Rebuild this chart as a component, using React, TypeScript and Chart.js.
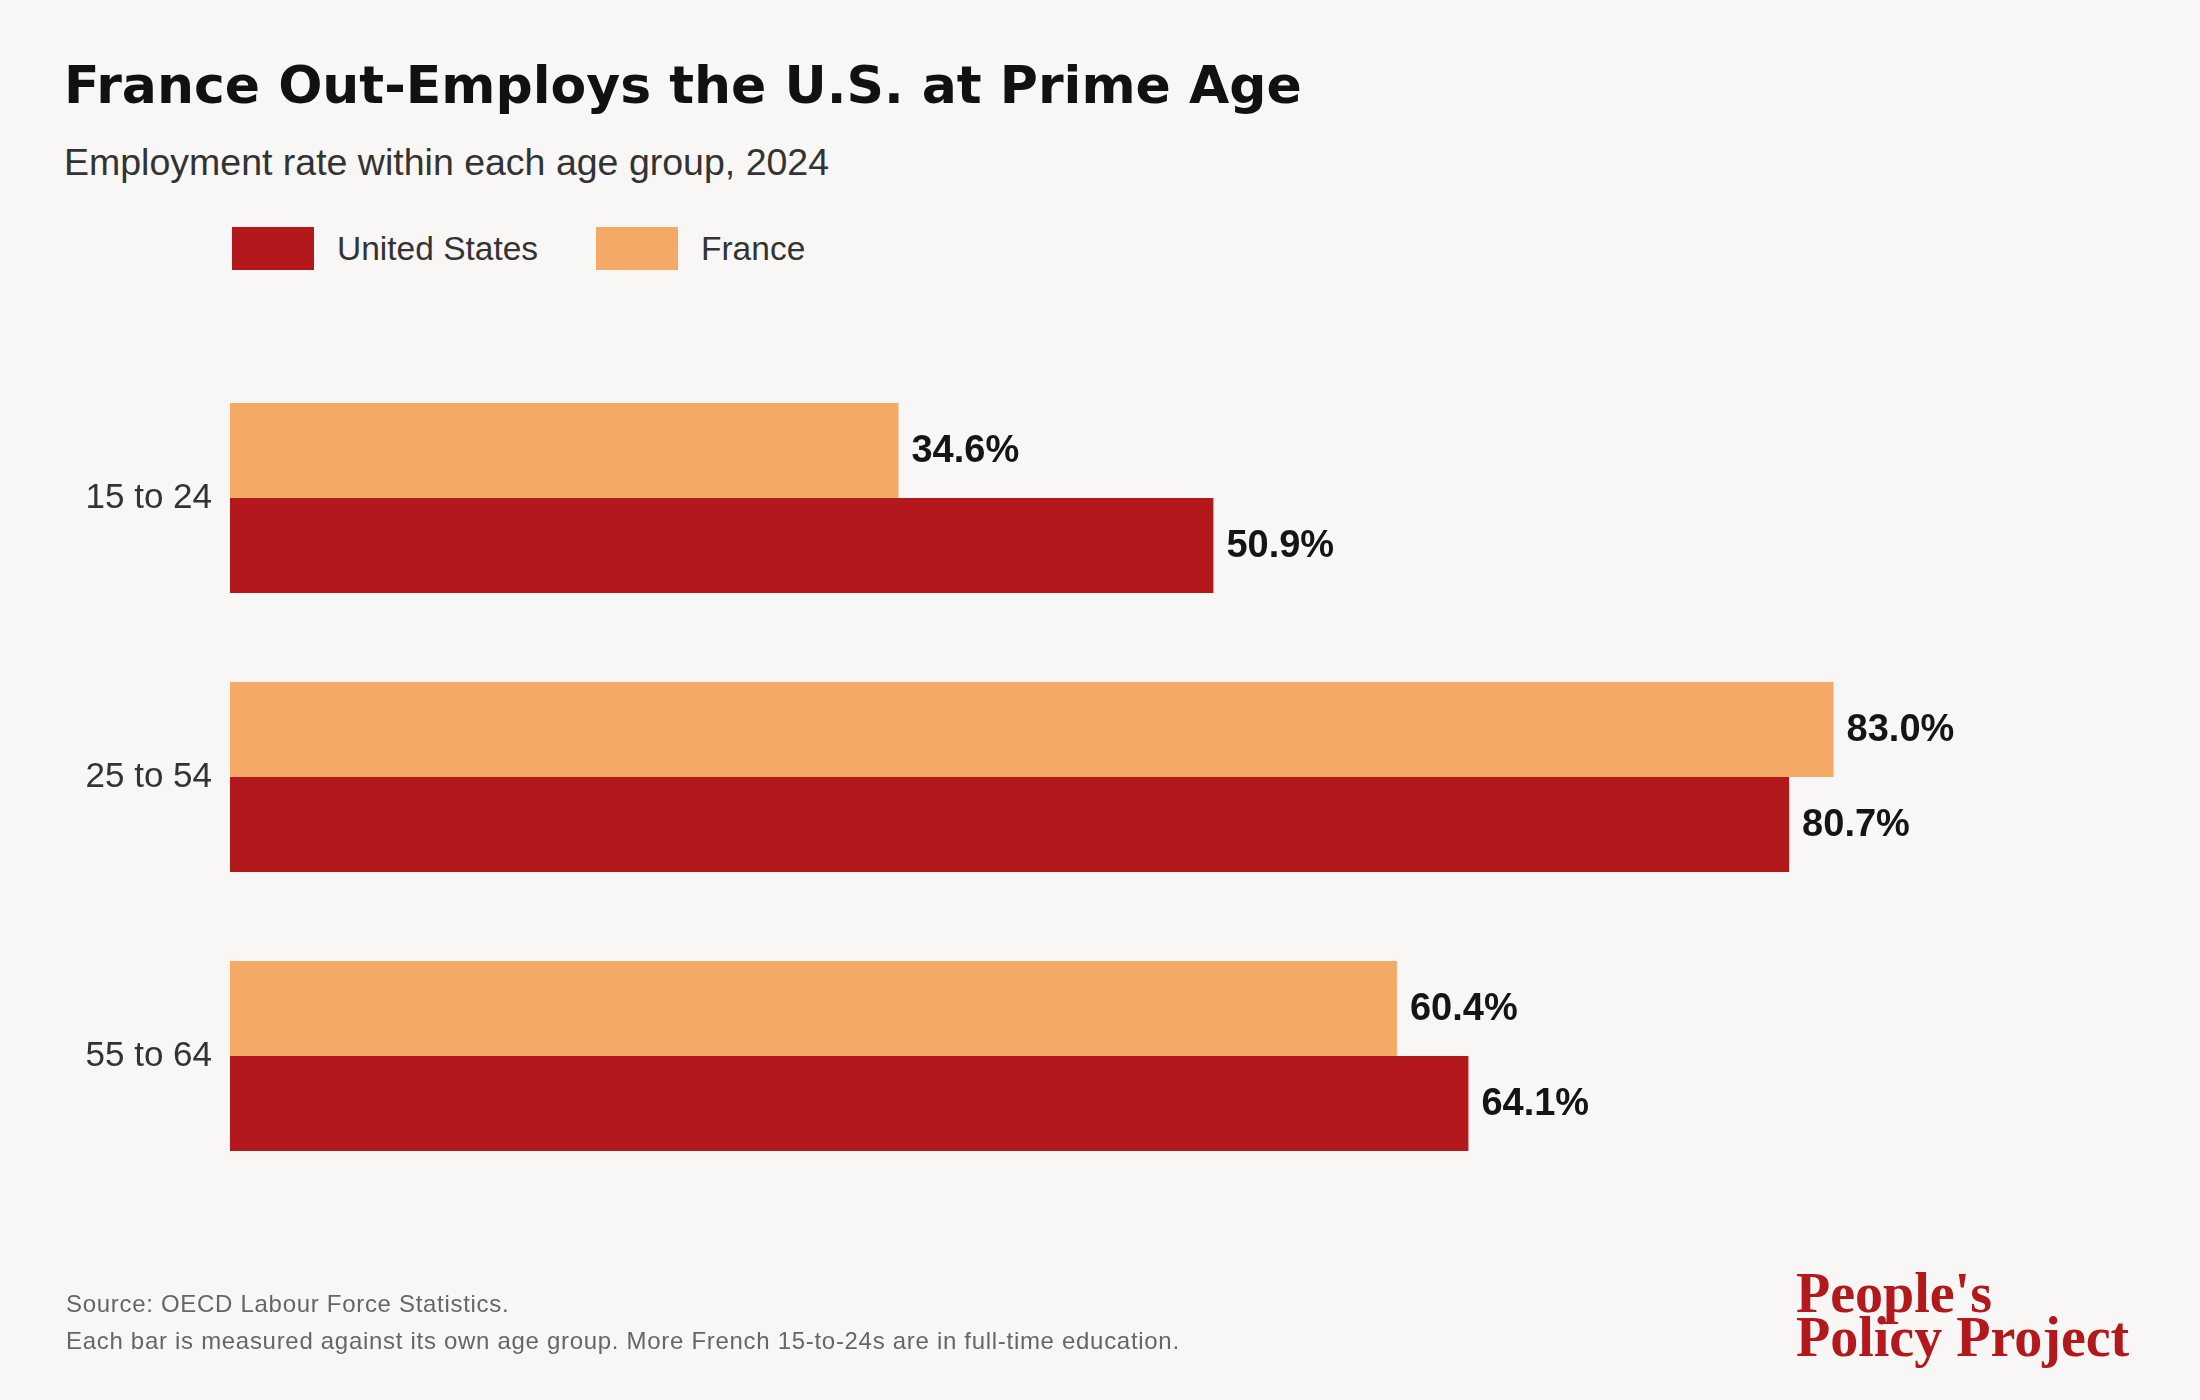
import React, { useEffect, useRef } from "react";
import { Chart, registerables } from "chart.js";

Chart.register(...registerables);

const categories = ["15 to 24", "25 to 54", "55 to 64"];
const usValues = [50.9, 80.7, 64.1];
const franceValues = [34.6, 83.0, 60.4];
const seriesNames = ["United States", "France"];

const RED = "#b3181c";
const ORANGE = "#f4a966";
const BG = "#f8f7f5";
const SANS = "'Liberation Sans', Arial, sans-serif";
const WIDE = "'DejaVu Sans', 'Liberation Sans', sans-serif";
const SERIF = "'Liberation Serif', 'Times New Roman', serif";

const valueLabels = {
  id: "valueLabels",
  afterDatasetsDraw(chart: any) {
    const ctx = chart.ctx;
    ctx.save();
    ctx.font = `bold 38px ${SANS}`;
    ctx.fillStyle = "#151515";
    ctx.textAlign = "left";
    ctx.textBaseline = "middle";
    chart.data.datasets.forEach((ds: any, i: number) => {
      const meta = chart.getDatasetMeta(i);
      meta.data.forEach((bar: any, j: number) => {
        const v = ds.data[j];
        ctx.fillText(v.toFixed(1) + "%", bar.x + 13, bar.y + 1);
      });
    });
    ctx.restore();
  },
};

export default function App() {
  const ref = useRef<HTMLCanvasElement>(null);

  useEffect(() => {
    document.body.style.margin = "0";
    document.body.style.background = BG;
    const chart = new Chart(ref.current!, {
      type: "bar",
      data: {
        labels: categories,
        datasets: [
          {
            label: seriesNames[1],
            data: franceValues,
            backgroundColor: ORANGE,
            borderWidth: 0,
            barPercentage: 1,
            categoryPercentage: 0.681,
          },
          {
            label: seriesNames[0],
            data: usValues,
            backgroundColor: RED,
            borderWidth: 0,
            barPercentage: 1,
            categoryPercentage: 0.681,
          },
        ],
      },
      options: {
        indexAxis: "y",
        animation: false,
        responsive: false,
        maintainAspectRatio: false,
        devicePixelRatio: 1,
        layout: { padding: { left: 0, top: 358.5, bottom: 204.5, right: 38 } },
        plugins: {
          legend: { display: false },
          tooltip: { enabled: false },
          title: { display: false },
        },
        scales: {
          x: { display: false, min: 0, max: 100 },
          y: {
            grid: { display: false, drawTicks: false, tickLength: 0 },
            border: { display: false },
            ticks: {
              color: "#333333",
              font: { family: SANS, size: 35 },
              padding: 18,
            },
            afterFit(scale: any) {
              scale.width = 230;
            },
          },
        },
      },
      plugins: [valueLabels],
    } as any);
    return () => chart.destroy();
  }, []);

  const legendItems = [
    { name: seriesNames[0], color: RED, box: 232, text: 337 },
    { name: seriesNames[1], color: ORANGE, box: 596, text: 701 },
  ];

  return (
    <div
      style={{
        position: "absolute",
        left: 0,
        top: 0,
        width: 2200,
        height: 1400,
        background: BG,
        overflow: "hidden",
        fontFamily: SANS,
      }}
    >
      <div
        style={{
          position: "absolute",
          left: 64,
          top: 59,
          fontFamily: WIDE,
          fontSize: 52,
          lineHeight: "52px",
          fontWeight: 700,
          color: "#111111",
          whiteSpace: "nowrap",
        }}
      >
        France Out-Employs the U.S. at Prime Age
      </div>
      <div
        style={{
          position: "absolute",
          left: 64,
          top: 143.5,
          fontSize: 37.5,
          lineHeight: "37.5px",
          color: "#333333",
          whiteSpace: "nowrap",
        }}
      >
        Employment rate within each age group, 2024
      </div>
      {legendItems.map((it) => (
        <React.Fragment key={it.name}>
          <div
            style={{
              position: "absolute",
              left: it.box,
              top: 227,
              width: 82,
              height: 43,
              background: it.color,
            }}
          />
          <div
            style={{
              position: "absolute",
              left: it.text,
              top: 231.5,
              fontSize: 33.5,
              lineHeight: "33.5px",
              color: "#333333",
              whiteSpace: "nowrap",
            }}
          >
            {it.name}
          </div>
        </React.Fragment>
      ))}
      <canvas
        ref={ref}
        width={2200}
        height={1400}
        style={{ position: "absolute", left: 0, top: 0, width: 2200, height: 1400 }}
      />
      <div
        style={{
          position: "absolute",
          left: 66,
          top: 1291.5,
          fontSize: 24,
          lineHeight: "24px",
          letterSpacing: "0.7px",
          color: "#666666",
          whiteSpace: "nowrap",
        }}
      >
        Source: OECD Labour Force Statistics.
      </div>
      <div
        style={{
          position: "absolute",
          left: 66,
          top: 1328.5,
          fontSize: 24,
          lineHeight: "24px",
          letterSpacing: "0.7px",
          color: "#666666",
          whiteSpace: "nowrap",
        }}
      >
        Each bar is measured against its own age group. More French 15-to-24s are in full-time education.
      </div>
      <div
        style={{
          position: "absolute",
          left: 1796,
          top: 1271,
          fontFamily: SERIF,
          fontWeight: 700,
          fontSize: 56,
          lineHeight: "44px",
          color: RED,
          whiteSpace: "nowrap",
        }}
      >
        People's
        <br />
        Policy Project
      </div>
    </div>
  );
}
